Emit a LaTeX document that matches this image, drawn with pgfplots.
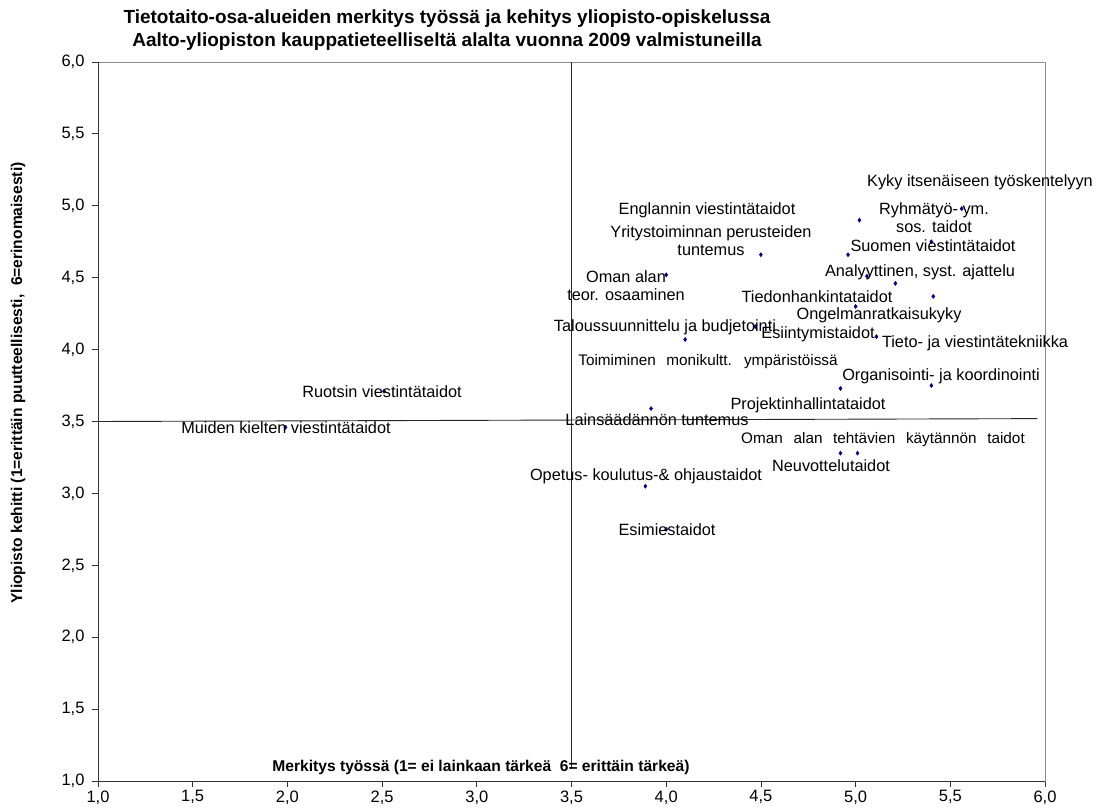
\documentclass[border=0pt]{standalone}
\usepackage{fontspec}
\setmainfont{Liberation Sans}
\usepackage{pgfplots}
\pgfplotsset{compat=1.18}
\definecolor{dotblue}{RGB}{0,0,128}
% label at pixel position (x, y from top)
\newcommand\lab[3]{\node[anchor=center,inner sep=0pt,align=center,
  font=\fontsize{16.3}{18}\selectfont] at (#1,810-#2) {#3};}
\newcommand\labs[3]{\node[anchor=center,inner sep=0pt,
  font=\fontsize{15.3}{18}\selectfont] at (#1,810-#2) {\spaceskip=0.7em\relax #3};}
\begin{document}
\begin{tikzpicture}[x=1pt,y=1pt]
\useasboundingbox (0,0) rectangle (1105,810);
\begin{axis}[
  at={(98pt,29pt)}, anchor=south west,
  scale only axis, width=947pt, height=719pt,
  xmin=1, xmax=6, ymin=1, ymax=6,
  xtick={1,1.5,...,6}, ytick={1,1.5,...,6},
  xtick pos=bottom, ytick pos=left,
  tick align=outside, major tick length=6pt,
  tick style={black!80, line width=0.8pt},
  axis line style={draw=black!45, line width=0.8pt},
  ticklabel style={font=\fontsize{16.5}{19}\selectfont},
  yticklabel style={xshift=-4pt},
  /pgf/number format/fixed,
  /pgf/number format/fixed zerofill,
  /pgf/number format/precision=1,
  /pgf/number format/use comma,
  /pgf/number format/assume math mode=true,
  clip=false,
]
\draw[black!80, line width=0.8pt] (rel axis cs:0,1) -- (rel axis cs:0,0) -- (rel axis cs:1,0);
% quadrant lines
\addplot[black!85, line width=0.9pt] coordinates {(3.5,6) (3.5,1.08)};
\addplot[black!85, line width=0.9pt] coordinates {(1,3.5) (5.96,3.52)};
% skills: (importance at work, development at university)
\addplot[only marks, mark=diamond*, mark size=2.1pt, dotblue] coordinates {
  (5.02,4.90) (5.56,4.98) (4.50,4.66) (4.96,4.66) (5.40,4.75)
  (4.00,4.52) (5.06,4.51) (5.21,4.46) (5.41,4.37) (5.00,4.30)
  (4.47,4.16) (4.10,4.07) (5.11,4.09) (4.92,3.73) (5.40,3.75)
  (3.92,3.59) (4.92,3.28) (5.01,3.28) (3.89,3.05) (4.00,2.75)
  (2.51,3.71) (1.99,3.46)
};
\end{axis}
% title
\node[align=center, inner sep=0pt, font=\bfseries\fontsize{19}{23}\selectfont] at (447,810-30)
  {Tietotaito-osa-alueiden merkitys työssä ja kehitys yliopisto-opiskelussa\\
   Aalto-yliopiston kauppatieteelliseltä alalta vuonna 2009 valmistuneilla};
% axis titles
\node[inner sep=0pt, font=\bfseries\fontsize{15.6}{18}\selectfont] at (481,810-767)
  {Merkitys työssä (1= ei lainkaan tärkeä \ 6= erittäin tärkeä)};
\node[inner sep=0pt, rotate=90, font=\bfseries\fontsize{15.6}{18}\selectfont] at (18,810-383)
  {Yliopisto kehitti (1=erittäin puutteellisesti, \ 6=erinomaisesti)};
% point labels
\lab{980}{182}{Kyky itsenäiseen työskentelyyn}
\lab{707}{210}{Englannin viestintätaidot}
\lab{711}{241}{Yritystoiminnan perusteiden\\tuntemus}
\lab{934}{218}{Ryhmätyö- ym.\\sos. taidot}
\lab{933}{246}{Suomen viestintätaidot}
\lab{626}{286}{Oman alan\\teor. osaaminen}
\lab{920}{272}{Analyyttinen, syst. ajattelu}
\lab{817}{297}{Tiedonhankintataidot}
\lab{879}{315}{Ongelmanratkaisukyky}
\lab{665}{327}{Taloussuunnittelu ja budjetointi}
\lab{818}{334}{Esiintymistaidot}
\lab{975}{343}{Tieto- ja viestintätekniikka}
\labs{708}{362}{Toimiminen monikultt. ympäristöissä}
\lab{941}{376}{Organisointi- ja koordinointi}
\lab{808}{405}{Projektinhallintataidot}
\lab{657}{420}{Lainsäädännön tuntemus}
\labs{883}{440}{Oman alan tehtävien käytännön taidot}
\lab{831}{466}{Neuvottelutaidot}
\lab{646}{476}{Opetus- koulutus-\& ohjaustaidot}
\lab{667}{530}{Esimiestaidot}
\lab{382}{392}{Ruotsin viestintätaidot}
\lab{286}{428}{Muiden kielten viestintätaidot}
\end{tikzpicture}
\end{document}
